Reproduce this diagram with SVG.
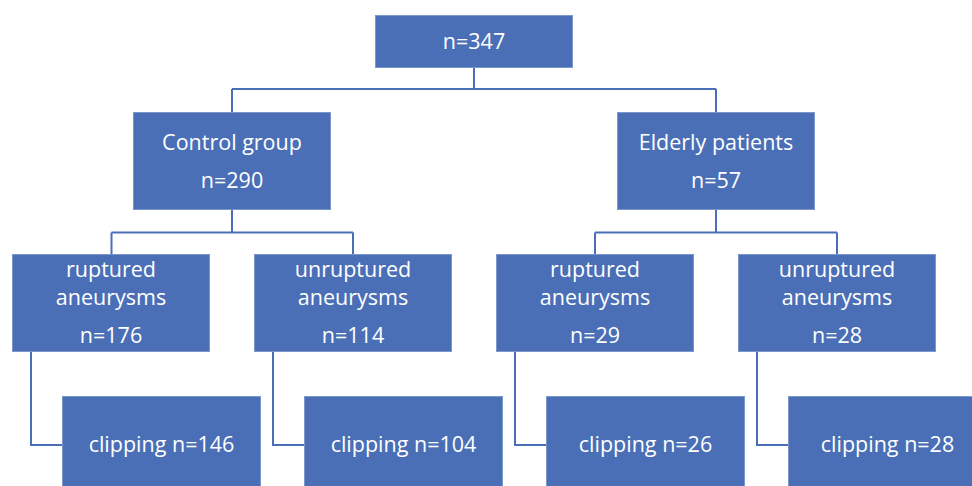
<svg xmlns="http://www.w3.org/2000/svg" width="972" height="486" viewBox="0 0 972 486">
<style>
.box{fill:#4A6FB6;stroke:#7b97cc;stroke-width:1}
.t{fill:#ffffff;font-family:"Open Sans","Liberation Sans",sans-serif;font-size:21.5px;text-anchor:middle}
.c{fill:none;stroke:#4A6FB6;stroke-width:2}
</style>
<rect width="972" height="486" fill="#ffffff"/>
<g id="connectors">
<path class="c" d="M474 68V89M232 89H716M232 89V112M716 89V112"/>
<path class="c" d="M232 210V232.5M111.5 232.5H353M111.5 232.5V254.5M353 232.5V254.5"/>
<path class="c" d="M716 210V232.5M595 232.5H837M595 232.5V254.5M837 232.5V254.5"/>
<path class="c" d="M31 352V445H63"/>
<path class="c" d="M273 352V445H304"/>
<path class="c" d="M515 352V445H546"/>
<path class="c" d="M757 352V445H788"/>
</g>
<g id="n347"><rect class="box" x="375.5" y="15.5" width="197" height="52"/><text class="t" x="474" y="48.5">n=347</text></g>
<g id="control"><rect class="box" x="133.5" y="112.5" width="197" height="97"/><text class="t" x="232" y="150">Control group</text><text class="t" x="232" y="188">n=290</text></g>
<g id="elderly"><rect class="box" x="617.5" y="112.5" width="197" height="97"/><text class="t" x="716" y="150">Elderly patients</text><text class="t" x="716" y="188">n=57</text></g>
<g id="c_rupt"><rect class="box" x="12.5" y="254.5" width="197" height="97"/><text class="t" x="111" y="277">ruptured</text><text class="t" x="111" y="304.5">aneurysms</text><text class="t" x="111" y="343">n=176</text></g>
<g id="c_unrupt"><rect class="box" x="254.5" y="254.5" width="197" height="97"/><text class="t" x="353" y="277">unruptured</text><text class="t" x="353" y="304.5">aneurysms</text><text class="t" x="353" y="343">n=114</text></g>
<g id="e_rupt"><rect class="box" x="496.5" y="254.5" width="197" height="97"/><text class="t" x="595" y="277">ruptured</text><text class="t" x="595" y="304.5">aneurysms</text><text class="t" x="595" y="343">n=29</text></g>
<g id="e_unrupt"><rect class="box" x="738.5" y="254.5" width="197" height="97"/><text class="t" x="837" y="277">unruptured</text><text class="t" x="837" y="304.5">aneurysms</text><text class="t" x="837" y="343">n=28</text></g>
<g id="c_rupt_clip"><rect class="box" x="62.5" y="396.5" width="198" height="97"/><text class="t" x="161.5" y="452">clipping n=146</text></g>
<g id="c_unrupt_clip"><rect class="box" x="304.5" y="396.5" width="198" height="97"/><text class="t" x="403.5" y="452">clipping n=104</text></g>
<g id="e_rupt_clip"><rect class="box" x="546.5" y="396.5" width="198" height="97"/><text class="t" x="645.5" y="452">clipping n=26</text></g>
<g id="e_unrupt_clip"><rect class="box" x="788.5" y="396.5" width="198" height="97"/><text class="t" x="887.5" y="452">clipping n=28</text></g>
</svg>
